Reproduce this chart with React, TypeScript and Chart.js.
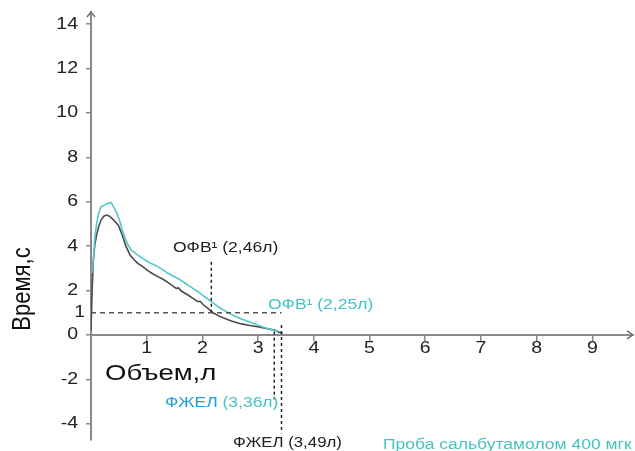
import React, { useEffect, useRef } from "react";
import { Chart, registerables } from "chart.js";

Chart.register(...registerables);

// ---- Data ----
const xTickValues = [1, 2, 3, 4, 5, 6, 7, 8, 9];
const yTickValues = [-4, -2, 0, 1, 2, 4, 6, 8, 10, 12, 14];

// Baseline spirogram (gray)
const baseX = [0, 0.02, 0.04, 0.07, 0.1, 0.14, 0.18, 0.23, 0.28, 0.33, 0.4, 0.49, 0.55, 0.62, 0.7, 0.77, 0.84, 0.93, 1.02, 1.1, 1.2, 1.3, 1.38, 1.46, 1.53, 1.57, 1.62, 1.74, 1.83, 1.92, 1.96, 2.02, 2.1, 2.19, 2.3, 2.45, 2.56, 2.7, 2.85, 2.99, 3.15, 3.29, 3.38, 3.44];
const baseY = [0.2, 2.0, 3.3, 4.1, 4.5, 4.9, 5.18, 5.35, 5.4, 5.35, 5.2, 4.95, 4.58, 4.05, 3.6, 3.4, 3.23, 3.08, 2.9, 2.77, 2.63, 2.5, 2.37, 2.22, 2.1, 2.12, 1.98, 1.8, 1.65, 1.5, 1.52, 1.35, 1.2, 1.0, 0.85, 0.7, 0.6, 0.5, 0.43, 0.37, 0.29, 0.22, 0.12, 0.07];

// After salbutamol 400 mcg (teal)
const salbX = [0.02, 0.04, 0.07, 0.1, 0.13, 0.18, 0.24, 0.3, 0.36, 0.42, 0.47, 0.51, 0.57, 0.65, 0.72, 0.78, 0.84, 0.93, 1.02, 1.1, 1.2, 1.3, 1.38, 1.47, 1.56, 1.65, 1.74, 1.83, 1.92, 2.0, 2.1, 2.2, 2.3, 2.45, 2.56, 2.7, 2.85, 2.99, 3.1, 3.2, 3.32, 3.36];
const salbY = [2.8, 3.3, 4.4, 5.0, 5.4, 5.78, 5.85, 5.92, 5.97, 5.7, 5.45, 5.18, 4.65, 4.13, 3.83, 3.72, 3.6, 3.45, 3.3, 3.2, 3.08, 2.92, 2.78, 2.66, 2.55, 2.4, 2.25, 2.1, 1.95, 1.8, 1.62, 1.42, 1.25, 1.02, 0.88, 0.72, 0.58, 0.45, 0.35, 0.27, 0.18, 0.12];

// Marker (dashed) lines
const oneSecLineX = [0, 3.42];
const oneSecLineY = [1, 1];
const fev1MarkX = [2.16, 2.16];
const fev1MarkY = [1, 3.3];
const fvcSalbMarkX = [3.29, 3.29];
const fvcSalbMarkY = [0.15, -2.9];
const fvcBaseMarkX = [3.42, 3.42];
const fvcBaseMarkY = [0.45, -4.43];

const toPts = (xs: number[], ys: number[]) => xs.map((x, i) => ({ x, y: ys[i] }));

const FONT = '"Liberation Sans", Arial, sans-serif';
const TEAL = "#45c3c3";
const BLUE = "#1e9fe2";
const DARK = "#222222";
const AXIS = "#8a8a8a";

function drawText(
  ctx: CanvasRenderingContext2D,
  text: string,
  x: number,
  y: number,
  size: number,
  color: string,
  align: CanvasTextAlign = "left",
  sx = 1.25
): number {
  ctx.save();
  ctx.font = `${size}px ${FONT}`;
  ctx.fillStyle = color;
  ctx.textBaseline = "middle";
  ctx.textAlign = align;
  ctx.translate(x, y);
  ctx.scale(sx, 1);
  ctx.fillText(text, 0, 0);
  const w = ctx.measureText(text).width * sx;
  ctx.restore();
  return w;
}

const overlayPlugin = {
  id: "overlay",
  afterDraw(chart: any) {
    const ctx: CanvasRenderingContext2D = chart.ctx;
    const xs = chart.scales.x;
    const ys = chart.scales.y;
    const area = chart.chartArea;
    const y0 = ys.getPixelForValue(0);
    const x0 = area.left;

    // axis arrows
    ctx.save();
    ctx.strokeStyle = "#6f6f6f";
    ctx.lineWidth = 1.5;
    ctx.beginPath();
    ctx.moveTo(x0 - 4, area.top + 5);
    ctx.lineTo(x0, area.top);
    ctx.lineTo(x0 + 4, area.top + 5);
    ctx.stroke();
    ctx.beginPath();
    ctx.moveTo(area.right - 6, y0 - 4);
    ctx.lineTo(area.right, y0);
    ctx.lineTo(area.right - 6, y0 + 4);
    ctx.stroke();
    ctx.restore();

    // tick labels
    yTickValues.forEach((v) => {
      const py = ys.getPixelForValue(v);
      drawText(ctx, String(v), x0 - 13 + (v === 1 ? 7 : 0), py, 16, DARK, "right", 1.22);
    });
    xTickValues.forEach((v) => {
      const px = xs.getPixelForValue(v);
      drawText(ctx, String(v), px, y0 + 14, 16, DARK, "center", 1.22);
    });

    // axis titles
    drawText(ctx, "Объем,л", 105, 374, 22, "#111", "left", 1.25);
    ctx.save();
    ctx.translate(23, 289);
    ctx.rotate(-Math.PI / 2);
    ctx.scale(1, 1.2);
    ctx.font = `22px ${FONT}`;
    ctx.fillStyle = "#111";
    ctx.textAlign = "center";
    ctx.textBaseline = "middle";
    ctx.fillText("Время,с", 0, 0);
    ctx.restore();

    // annotations
    drawText(ctx, "ОФВ¹ (2,46л)", 173, 248, 14, DARK, "left", 1.25);
    drawText(ctx, "ОФВ¹ (2,25л)", 268, 305, 14, TEAL, "left", 1.25);
    const w = drawText(ctx, "ФЖЕЛ", 165, 403, 14, BLUE, "left", 1.25);
    drawText(ctx, " (3,36л)", 165 + w, 403, 14, TEAL, "left", 1.25);
    drawText(ctx, "ФЖЕЛ (3,49л)", 233, 443, 14, DARK, "left", 1.2);
    drawText(ctx, "Проба сальбутамолом 400 мгк", 383, 445, 14, TEAL, "left", 1.25);
  },
};

export default function App() {
  const ref = useRef<HTMLCanvasElement | null>(null);

  useEffect(() => {
    if (!ref.current) return;
    const chart = new Chart(ref.current, {
      type: "scatter",
      data: {
        datasets: [
          {
            label: "oneSec",
            data: toPts(oneSecLineX, oneSecLineY),
            showLine: true,
            borderColor: "#555555",
            borderWidth: 1.5,
            borderDash: [5, 4],
            pointRadius: 0,
          },
          {
            label: "fev1",
            data: toPts(fev1MarkX, fev1MarkY),
            showLine: true,
            borderColor: "#222222",
            borderWidth: 1.5,
            borderDash: [3, 3],
            pointRadius: 0,
          },
          {
            label: "fvcSalb",
            data: toPts(fvcSalbMarkX, fvcSalbMarkY),
            showLine: true,
            borderColor: "#222222",
            borderWidth: 1.5,
            borderDash: [3, 3],
            pointRadius: 0,
          },
          {
            label: "fvcBase",
            data: toPts(fvcBaseMarkX, fvcBaseMarkY),
            showLine: true,
            borderColor: "#222222",
            borderWidth: 1.5,
            borderDash: [3, 3],
            pointRadius: 0,
          },
          {
            label: "Проба сальбутамолом 400 мгк",
            data: toPts(salbX, salbY),
            showLine: true,
            borderColor: "#52c8c8",
            borderWidth: 1.6,
            pointRadius: 0,
          },
          {
            label: "Исходно",
            data: toPts(baseX, baseY),
            showLine: true,
            borderColor: "#4a4a4a",
            borderWidth: 1.6,
            pointRadius: 0,
          },
        ],
      },
      options: {
        animation: false,
        responsive: true,
        maintainAspectRatio: false,
        layout: { padding: { left: 0, top: 12, right: 2, bottom: 11 } },
        plugins: { legend: { display: false }, tooltip: { enabled: false } },
        scales: {
          x: {
            type: "linear",
            min: 0,
            max: 9.73,
            position: { y: 0 } as any,
            afterFit: (s: any) => {
              s.height = 0;
            },
            afterBuildTicks: (s: any) => {
              s.ticks = xTickValues.map((v) => ({ value: v }));
            },
            grid: { drawOnChartArea: false, drawTicks: true, tickLength: 5, color: AXIS, lineWidth: 1.5 },
            border: { display: true, color: AXIS, width: 2 },
            ticks: { display: false },
          },
          y: {
            type: "linear",
            min: -4.73,
            max: 14.55,
            position: "left",
            afterFit: (s: any) => {
              s.width = 91;
            },
            afterBuildTicks: (s: any) => {
              s.ticks = yTickValues.filter((v) => v !== 1).map((v) => ({ value: v }));
            },
            grid: { drawOnChartArea: false, drawTicks: true, tickLength: 5, color: AXIS, lineWidth: 1.5 },
            border: { display: true, color: AXIS, width: 2 },
            ticks: { display: false },
          },
        },
      },
      plugins: [overlayPlugin],
    });
    return () => chart.destroy();
  }, []);

  return (
    <div style={{ position: "fixed", left: 0, top: 0, width: 635, height: 451, background: "#fff" }}>
      <canvas ref={ref} />
    </div>
  );
}
